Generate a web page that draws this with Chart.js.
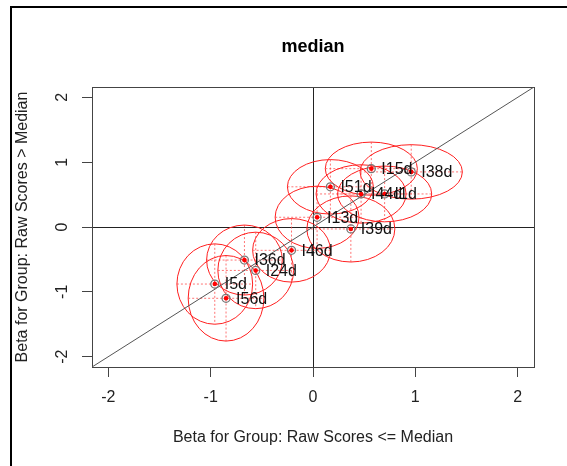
<!DOCTYPE html>
<html>
<head>
<meta charset="utf-8">
<title>median</title>
<script src="https://cdn.jsdelivr.net/npm/chart.js@4.4.1/dist/chart.umd.min.js"></script>
<style>
  html, body { margin: 0; padding: 0; background: #fff; }
  #frame {
    position: absolute; left: 10px; top: 6px; width: 600px; height: 500px;
    border-top: 2px solid #000; border-left: 2px solid #000;
  }
  #medianChart { position: absolute; left: 0; top: 0; }
</style>
</head>
<body>
<div id="frame"></div>
<canvas id="medianChart" width="567" height="466"></canvas>
<script>
// Items and their betas for the two groups
const itemNames = ['I15d', 'I38d', 'I51d', 'I44d', 'I1d', 'I13d', 'I39d', 'I46d', 'I36d', 'I24d', 'I5d', 'I56d'];
const betaLow  = [0.57, 0.96, 0.17, 0.47, 0.70, 0.04, 0.37, -0.21, -0.67, -0.56, -0.96, -0.85];
const betaHigh = [0.90, 0.85, 0.62, 0.51, 0.51, 0.15, -0.03, -0.36, -0.51, -0.67, -0.88, -1.10];

// Half widths of the confidence ellipses (in beta units)
const semiX = [0.45, 0.50, 0.42, 0.44, 0.46, 0.41, 0.43, 0.38, 0.37, 0.37, 0.37, 0.37];
const semiY = [0.41, 0.42, 0.42, 0.45, 0.43, 0.48, 0.51, 0.49, 0.54, 0.59, 0.62, 0.66];

// Axis ticks and limits
const xTicks = [-2, -1, 0, 1, 2];
const yTicks = [-2, -1, 0, 1, 2];
const axisLimits = [-2.16, 2.16];

const FONT = 'Liberation Sans, Arial, Helvetica, sans-serif';

// Ellipses with their dotted axes, drawn under the points
const ellipsePlugin = {
  id: 'ellipses',
  beforeDatasetsDraw(chart) {
    const { ctx, chartArea, scales: { x, y } } = chart;
    ctx.save();
    ctx.beginPath();
    ctx.rect(chartArea.left, chartArea.top, chartArea.right - chartArea.left, chartArea.bottom - chartArea.top);
    ctx.clip();
    itemNames.forEach((name, i) => {
      const cx = x.getPixelForValue(betaLow[i]);
      const cy = y.getPixelForValue(betaHigh[i]);
      const rx = Math.abs(x.getPixelForValue(betaLow[i] + semiX[i]) - cx);
      const ry = Math.abs(y.getPixelForValue(betaHigh[i] + semiY[i]) - cy);

      // dotted axes
      ctx.setLineDash([2, 2]);
      ctx.strokeStyle = 'rgba(255, 70, 70, 0.75)';
      ctx.lineWidth = 1;
      ctx.beginPath();
      ctx.moveTo(cx - rx, cy);
      ctx.lineTo(cx + rx, cy);
      ctx.moveTo(cx, cy - ry);
      ctx.lineTo(cx, cy + ry);
      ctx.stroke();

      // ellipse outline
      ctx.setLineDash([]);
      ctx.strokeStyle = '#ff2020';
      ctx.beginPath();
      ctx.ellipse(cx, cy, rx, ry, 0, 0, Math.PI * 2);
      ctx.stroke();
    });
    ctx.restore();
  }
};

// Item labels to the right of the points
const labelPlugin = {
  id: 'itemLabels',
  afterDatasetsDraw(chart) {
    const { ctx, scales: { x, y } } = chart;
    ctx.save();
    ctx.font = '16px ' + FONT;
    ctx.fillStyle = '#111';
    ctx.textAlign = 'left';
    ctx.textBaseline = 'middle';
    itemNames.forEach((name, i) => {
      ctx.fillText(name, x.getPixelForValue(betaLow[i]) + 10, y.getPixelForValue(betaHigh[i]) + 1);
    });
    ctx.restore();
  }
};

// Only the zero lines are drawn inside the plot
function zeroLineColor(context) {
  return context.tick && context.tick.value === 0 ? '#222' : 'rgba(0,0,0,0)';
}

function initChart() {
  const ctx = document.getElementById('medianChart');
  const points = itemNames.map((n, i) => ({ x: betaLow[i], y: betaHigh[i] }));
  const diagLine = axisLimits.map(v => ({ x: v, y: v }));

  new Chart(ctx, {
    type: 'scatter',
    data: {
      datasets: [
        {
          type: 'line',
          data: diagLine,
          borderColor: '#555',
          borderWidth: 1,
          pointRadius: 0,
          order: 3
        },
        {
          data: points,
          pointRadius: 4,
          borderColor: '#777',
          borderWidth: 1.3,
          backgroundColor: 'rgba(0,0,0,0)',
          order: 2
        },
        {
          data: points,
          pointRadius: 2.3,
          borderWidth: 0,
          backgroundColor: '#ff0000',
          order: 1
        }
      ]
    },
    options: {
      responsive: false,
      animation: false,
      devicePixelRatio: 1,
      layout: { padding: 0 },
      plugins: {
        legend: { display: false },
        tooltip: { enabled: false }
      },
      scales: {
        x: {
          type: 'linear',
          position: 'bottom',
          min: axisLimits[0],
          max: axisLimits[1],
          afterBuildTicks: s => { s.ticks = xTicks.map(v => ({ value: v })); },
          afterFit: s => { s.height = 99; },
          ticks: { color: '#222', padding: 11, font: { family: FONT, size: 16 } },
          grid: { color: zeroLineColor, tickColor: '#444', tickLength: 10, lineWidth: 1 },
          border: { display: true, color: '#444', width: 1 },
          title: {
            display: true,
            text: 'Beta for Group: Raw Scores <= Median',
            color: '#222',
            font: { family: FONT, size: 16 },
            padding: { top: 0, bottom: 19 }
          }
        },
        y: {
          type: 'linear',
          position: 'left',
          min: axisLimits[0],
          max: axisLimits[1],
          afterBuildTicks: s => { s.ticks = yTicks.map(v => ({ value: v })); },
          afterFit: s => { s.width = 92; },
          ticks: {
            color: '#222', padding: 12, minRotation: 90, maxRotation: 90,
            crossAlign: 'center', font: { family: FONT, size: 16 }
          },
          grid: { color: zeroLineColor, tickColor: '#444', tickLength: 10, lineWidth: 1 },
          border: { display: true, color: '#444', width: 1 },
          title: {
            display: true,
            text: 'Beta for Group: Raw Scores > Median',
            color: '#222',
            font: { family: FONT, size: 16 },
            padding: { top: 13, bottom: 0 }
          }
        },
        // top and right edges of the plot box, the top one carries the title
        x2: {
          type: 'linear',
          position: 'top',
          min: axisLimits[0],
          max: axisLimits[1],
          afterFit: s => { s.height = 87; },
          ticks: { display: false },
          grid: { display: false },
          border: { display: true, color: '#444', width: 1 },
          title: {
            display: true,
            text: 'median',
            color: '#000',
            font: { family: FONT, size: 18, weight: 'bold' },
            padding: { top: 36, bottom: 0 }
          }
        },
        y2: {
          type: 'linear',
          position: 'right',
          min: axisLimits[0],
          max: axisLimits[1],
          afterFit: s => { s.width = 33; },
          ticks: { display: false },
          grid: { display: false },
          border: { display: true, color: '#444', width: 1 }
        }
      }
    },
    plugins: [ellipsePlugin, labelPlugin]
  });
}

document.addEventListener('DOMContentLoaded', initChart);
</script>
</body>
</html>
